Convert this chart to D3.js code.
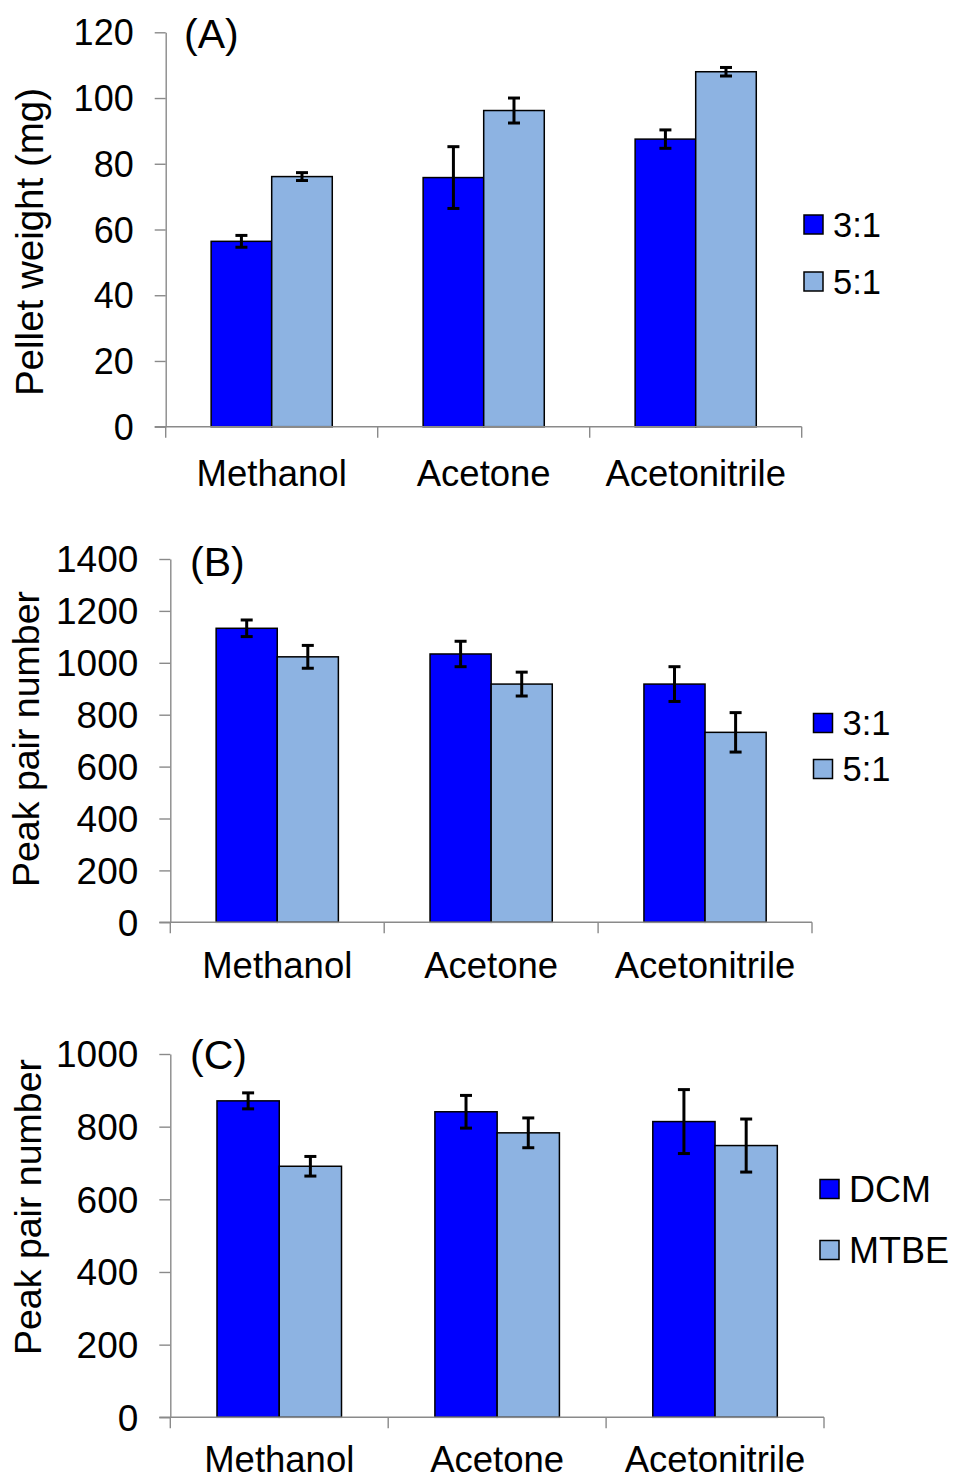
<!DOCTYPE html>
<html>
<head>
<meta charset="utf-8">
<script src="https://cdn.jsdelivr.net/npm/d3@7"></script>
<style>
  html, body { margin: 0; padding: 0; background: #fff; }
  svg { display: block; }
  text { font-family: "Liberation Sans", Arial, Helvetica, sans-serif; fill: #000; }
</style>
</head>
<body>
<svg id="chart" width="953" height="1477"></svg>
<script>
// ---------------- Data ----------------
const categories = ["Methanol", "Acetone", "Acetonitrile"];

// Panel A: pellet weight (mg)
const seriesA = ["3:1", "5:1"];
const pelletA_31 = [56.4, 75.8, 87.5];
const pelletA_31_err = [1.8, 9.4, 2.8];
const pelletA_51 = [76.1, 96.2, 108.0];
const pelletA_51_err = [1.2, 3.8, 1.3];
const ticksA = [0, 20, 40, 60, 80, 100, 120];

// Panel B: peak pair number
const seriesB = ["3:1", "5:1"];
const peakB_31 = [1133, 1034, 918];
const peakB_31_err = [32, 49, 67];
const peakB_51 = [1023, 918, 732];
const peakB_51_err = [44, 46, 76];
const ticksB = [0, 200, 400, 600, 800, 1000, 1200, 1400];

// Panel C: peak pair number
const seriesC = ["DCM", "MTBE"];
const peakC_DCM = [871, 841, 814];
const peakC_DCM_err = [22, 45, 88];
const peakC_MTBE = [691, 783, 748];
const peakC_MTBE_err = [27, 41, 73];
const ticksC = [0, 200, 400, 600, 800, 1000];

// ---------------- Styles ----------------
const colors = ["#0000FF", "#8DB3E2"];
const axisColor = "#8A8A8A";

const svg = d3.select("#chart");
svg.append("rect").attr("width", 953).attr("height", 1477).attr("fill", "#fff");

function panel(cfg) {
  const g = svg.append("g");
  const x = d3.scaleBand().domain(categories).range([cfg.x0, cfg.x1]).paddingInner(0).paddingOuter(0);
  const xs = d3.scaleBand().domain(cfg.series).range([0, x.bandwidth()]).paddingInner(0).paddingOuter(0.75);
  const y = d3.scaleLinear().domain([0, cfg.ymax]).range([cfg.yZero, cfg.yTop]);

  // bars
  const rows = categories.map((c, i) => cfg.series.map((s, j) => ({
    cat: c, ser: s, j, v: cfg.values[j][i], e: cfg.errors[j][i]
  }))).flat();

  g.selectAll("rect.bar").data(rows).join("rect")
    .attr("class", "bar")
    .attr("x", d => x(d.cat) + xs(d.ser))
    .attr("y", d => y(d.v))
    .attr("width", xs.bandwidth())
    .attr("height", d => y(0) - y(d.v))
    .attr("fill", d => colors[d.j])
    .attr("stroke", "#000")
    .attr("stroke-width", 1.5);

  // y axis
  const ya = g.append("g").attr("transform", `translate(${cfg.x0},0)`)
    .call(d3.axisLeft(y).tickValues(cfg.ticks).tickSize(11).tickSizeOuter(0).tickPadding(21).tickFormat(d3.format("d")));
  ya.select(".domain").attr("stroke", axisColor).attr("stroke-width", 1.4);
  ya.selectAll(".tick line").attr("stroke", axisColor).attr("stroke-width", 1.4);
  ya.selectAll(".tick text")
    .attr("font-size", cfg.tickFont).attr("dy", "0.35em")
    .style("font-family", '"Liberation Sans", Arial, sans-serif');

  // x axis line + boundary ticks
  const bounds = categories.map(c => x(c)).concat([x(categories[categories.length - 1]) + x.bandwidth()]);
  g.append("line").attr("x1", cfg.x0 - 11).attr("x2", cfg.x1)
    .attr("y1", y(0)).attr("y2", y(0)).attr("stroke", axisColor).attr("stroke-width", 1.4);
  g.selectAll("line.bt").data(bounds).join("line").attr("class", "bt")
    .attr("x1", d => d).attr("x2", d => d)
    .attr("y1", y(0)).attr("y2", y(0) + 11)
    .attr("stroke", axisColor).attr("stroke-width", 1.4);

  // category labels
  const xa = g.append("g").attr("transform", `translate(0,${y(0)})`)
    .call(d3.axisBottom(x).tickSize(0).tickPadding(0));
  xa.select(".domain").remove();
  xa.selectAll(".tick text")
    .attr("font-size", cfg.catFont).attr("y", cfg.catBaseline).attr("dy", 0)
    .style("font-family", '"Liberation Sans", Arial, sans-serif');

  // error bars
  const eg = g.append("g").attr("stroke", "#000").attr("stroke-width", 3);
  const cx = d => x(d.cat) + xs(d.ser) + xs.bandwidth() / 2;
  eg.selectAll("line.ev").data(rows).join("line").attr("class", "ev")
    .attr("x1", cx).attr("x2", cx)
    .attr("y1", d => y(d.v + d.e)).attr("y2", d => y(d.v - d.e));
  eg.selectAll("line.et").data(rows).join("line").attr("class", "et")
    .attr("x1", d => cx(d) - 6).attr("x2", d => cx(d) + 6)
    .attr("y1", d => y(d.v + d.e)).attr("y2", d => y(d.v + d.e));
  eg.selectAll("line.eb").data(rows).join("line").attr("class", "eb")
    .attr("x1", d => cx(d) - 6).attr("x2", d => cx(d) + 6)
    .attr("y1", d => y(d.v - d.e)).attr("y2", d => y(d.v - d.e));

  // y title
  g.append("text")
    .attr("transform", `translate(${cfg.titleX},${cfg.titleY}) rotate(-90)`)
    .attr("text-anchor", "middle")
    .attr("font-size", cfg.titleFont)
    .text(cfg.ytitle);

  // panel letter
  g.append("text").attr("x", cfg.letterX).attr("y", cfg.letterY)
    .attr("font-size", cfg.letterFont).text(cfg.letter);

  // legend
  const lg = g.append("g");
  cfg.series.forEach((s, j) => {
    const ly = cfg.legY + j * cfg.legStep;
    lg.append("rect").attr("x", cfg.legX).attr("y", ly)
      .attr("width", 19).attr("height", 19)
      .attr("fill", colors[j]).attr("stroke", "#000").attr("stroke-width", 1.5);
    lg.append("text").attr("x", cfg.legX + 29).attr("y", ly + 9.5 + cfg.legFont * 0.358)
      .attr("font-size", cfg.legFont).text(s);
  });
}

panel({
  series: seriesA, values: [pelletA_31, pelletA_51], errors: [pelletA_31_err, pelletA_51_err],
  ticks: ticksA, ymax: 120, x0: 165.7, x1: 801.7, yZero: 426.7, yTop: 32.3,
  tickFont: 36, catFont: 36.5, catBaseline: 59, titleFont: 38.5, titleX: 43, titleY: 242,
  ytitle: "Pellet weight (mg)", letter: "(A)", letterX: 184, letterY: 48, letterFont: 41,
  legX: 804, legY: 215, legStep: 57, legFont: 34.5
});

panel({
  series: seriesB, values: [peakB_31, peakB_51], errors: [peakB_31_err, peakB_51_err],
  ticks: ticksB, ymax: 1400, x0: 170.3, x1: 812, yZero: 922.3, yTop: 559,
  tickFont: 37, catFont: 36.5, catBaseline: 56, titleFont: 37.5, titleX: 39, titleY: 739,
  ytitle: "Peak pair number", letter: "(B)", letterX: 190, letterY: 576, letterFont: 41,
  legX: 813.5, legY: 713.5, legStep: 46, legFont: 34.5
});

panel({
  series: seriesC, values: [peakC_DCM, peakC_MTBE], errors: [peakC_DCM_err, peakC_MTBE_err],
  ticks: ticksC, ymax: 1000, x0: 170.3, x1: 824, yZero: 1417.3, yTop: 1054,
  tickFont: 37, catFont: 36.5, catBaseline: 55, titleFont: 37.5, titleX: 41, titleY: 1207,
  ytitle: "Peak pair number", letter: "(C)", letterX: 190, letterY: 1069, letterFont: 41,
  legX: 820, legY: 1179.5, legStep: 61, legFont: 36
});
</script>
</body>
</html>
